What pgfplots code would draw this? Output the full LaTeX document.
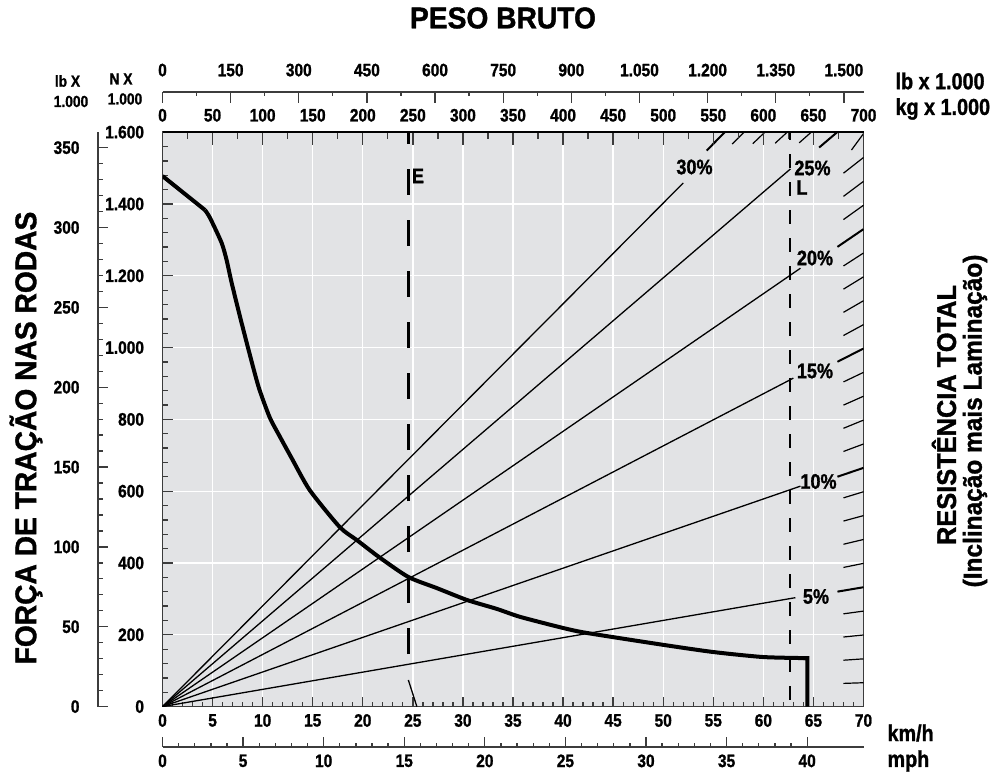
\documentclass[border=0pt]{standalone}
\usepackage{fontspec}
\setmainfont{Liberation Sans}[FakeStretch=0.86, BoldFeatures={FakeBold=1.2}]
\newfontfamily\titfam{Liberation Sans}[FakeStretch=0.94, BoldFeatures={FakeBold=1.2}]
\usepackage{pgfplots}
\pgfplotsset{compat=1.18}
\definecolor{bg}{RGB}{226,227,229}
\definecolor{axc}{RGB}{60,60,60}
\newcommand\tf{\bfseries\fontsize{18}{18}\selectfont}
\newcommand\rf{\bfseries\fontsize{21}{21}\selectfont}
\newcommand\smf{\bfseries\fontsize{16}{16}\selectfont}
\newcommand\uf{\bfseries\fontsize{23}{23}\selectfont}
\newcommand\titf{\titfam\bfseries\fontsize{30}{30}\selectfont}
\newcommand\rtf{\titfam\bfseries\fontsize{27}{27}\selectfont}
\newcommand\rtg{\titfam\bfseries\fontsize{26}{26}\selectfont}
\pgfplotsset{
  common/.style={scale only axis, tick align=inside,
    /pgf/number format/assume math mode=true, /pgf/number format/1000 sep={.},
    tick label style={font=\tf},
    axis line style={axc, line width=1.5pt}, tick style={axc, line width=1.3pt}},
}
\begin{document}
\begin{tikzpicture}[x=1pt,y=1pt]
\path[use as bounding box] (0pt,0pt) rectangle (1004pt,773pt);

% main axis: km/h vs kN
\begin{axis}[common, at={(162.5pt,66.4pt)}, anchor=south west, width=701pt, height=574.4pt,
  xmin=0, xmax=70, ymin=0, ymax=1600,
  axis background/.style={fill=bg},
  xtick={0,5,...,70}, ytick={0,200,...,1600}, minor x tick num=4, minor y tick num=4,
  xtick pos=bottom, ytick pos=left,
  major tick length=10pt, minor tick length=5pt,
  grid=major, major grid style={white, line width=1.3pt},
  xticklabel style={yshift=-4pt}, yticklabel style={xshift=-15pt},
  unbounded coords=jump]
% rays
\addplot[black, line width=1.3pt] coordinates {(0,0) (63.2,303.4)};
\addplot[black, line width=1.3pt] coordinates {(0,0) (63.7,614)};
\addplot[black, line width=1.3pt] coordinates {(0,0) (63.0,915)};
\addplot[black, line width=1.3pt] coordinates {(0,0) (63.7,1221)};
\addplot[black, line width=1.3pt] coordinates {(0,0) (62.7,1497.5)};
\addplot[black, line width=1.3pt] coordinates {(0,0) (52.0,1458.5)};
% hatch ticks (minor)
\addplot[black, line width=1.2pt] coordinates {
(68,64.6) (70,66.5) (69,nan)
(68,129.2) (70,133) (69,nan)
(68,193.8) (70,199.5) (69,nan)
(68,258.4) (70,266) (69,nan)
(68,387.6) (70,399) (69,nan)
(68,452.2) (70,465.5) (69,nan)
(68,516.8) (70,532) (69,nan)
(68,581.4) (70,598.5) (69,nan)
(68,710.6) (70,731.5) (69,nan)
(68,775.2) (70,798) (69,nan)
(68,839.8) (70,864.5) (69,nan)
(68,904.4) (70,931) (69,nan)
(68,1033.6) (70,1064) (69,nan)
(68,1098.2) (70,1130.5) (69,nan)
(68,1162.8) (70,1197) (69,nan)
(68,1227.4) (70,1263.5) (69,nan)
(68,1356.6) (70,1396.5) (69,nan)
(68,1421.2) (70,1463) (69,nan)
(68,1485.8) (70,1529.5) (69,nan)
(68.8,1550.4) (70,1596) (69,nan)
(63.58,1570.4) (64.78,1600) (69,nan)
(61.18,1569.3) (62.38,1600) (69,nan)
(58.95,1568.1) (60.15,1600) (69,nan)
(56.88,1567.0) (58.08,1600)
};
% hatch ticks (major)
\addplot[black, line width=2pt] coordinates {
(67.4,320.2) (70,332.5) (69,nan)
(67.4,640.3) (70,665) (69,nan)
(67.4,960.5) (70,997.5) (69,nan)
(67.4,1280.6) (70,1330) (69,nan)
(65.57,1557.3) (67.37,1600) (69,nan)
(54.34,1548.7) (56.14,1600)
};
% dashed lines E and L
\addplot[black, line width=2.5pt, dash pattern=on 26pt off 25pt] coordinates {(24.55,146.5) (24.55,1600)};
\addplot[black, line width=1.3pt] coordinates {(24.55,74) (25.4,0)};
\addplot[black, line width=2pt, dash pattern=on 14pt off 14pt, dash phase=21pt] coordinates {(62.7,0) (62.7,1600)};
% tractive force curve
\addplot[black, line width=4pt, line join=round] coordinates {(0,1478) (4.25,1383)};
\addplot[black, line width=4pt, line join=round, smooth, tension=0.4] coordinates {
(4.25,1383) (4.75,1361) (5.9,1292) (6.4,1244) (6.9,1181) (7.75,1085) (8.6,993) (9.6,890)
(10.7,806) (11.7,753) (12.9,692) (14.7,603) (17.7,500) (19.4,464) (21.6,417) (24.55,361)
(27.4,330) (30.4,297) (33.4,272) (35.7,250) (40.0,219) (42.4,205) (50.0,172) (55.0,152)
(60.0,138) (64.4,135)};
\addplot[black, line width=4pt, line join=miter] coordinates {(64.0,135.2) (64.4,135) (64.4,0)};
\end{axis}

% kg x 1000 (top edge of plot)
\begin{axis}[common, at={(162.5pt,66.4pt)}, anchor=south west, width=701pt, height=574.4pt,
  xmin=0, xmax=700, ymin=0, ymax=1, axis x line*=top, axis y line=none,
  xtick={0,50,...,700}, minor x tick num=1,
  major tick length=13pt, minor tick length=7pt,
  axis line style={black, line width=1.5pt},
  xticklabel style={yshift=7pt}]
\end{axis}

% lb x 1000 (weight), top line
\begin{axis}[common, at={(162.5pt,681pt)}, anchor=north west, width=701pt, height=12pt,
  xmin=0, xmax=1543.2, ymin=0, ymax=1, axis x line*=top, axis y line=none,
  xtick={0,150,...,1500}, minor x tick num=1,
  major tick length=11pt, minor tick length=4pt,
  xticklabel style={yshift=12pt}]
\end{axis}

% mph axis
\begin{axis}[common, at={(162.5pt,26pt)}, anchor=south west, width=701pt, height=12pt,
  xmin=0, xmax=43.496, ymin=0, ymax=1, axis x line*=bottom, axis y line=none,
  xtick={0,5,...,40}, minor x tick num=4,
  major tick length=10pt, minor tick length=4pt,
  xticklabel style={yshift=-4pt}]
\end{axis}

% lb x 1000 (force), left scale
\begin{axis}[common, at={(98pt,66.4pt)}, anchor=south west, width=12pt, height=574.4pt,
  xmin=0, xmax=1, ymin=0, ymax=359.7, axis y line*=left, axis x line=none,
  ytick={0,50,...,350}, minor y tick num=4,
  major tick length=10pt, minor tick length=5pt,
  yticklabel style={xshift=-15pt}]
\end{axis}

% texts
\node[font=\titf] at (503,755) {PESO BRUTO};
\node[font=\titf, rotate=90] at (26,335) {FORÇA DE TRAÇÃO NAS RODAS};
\node[font=\rtf, rotate=90] at (944,358) {RESISTÊNCIA TOTAL};
\node[font=\rtg, rotate=90] at (975,352) {(Inclinação mais Laminação)};
\node[font=\smf] at (67.5,692) {lb X};
\node[font=\smf] at (71,671.5) {1.000};
\node[font=\smf] at (121,694) {N X};
\node[font=\smf] at (125,674) {1.000};
\node[font=\uf, anchor=west] at (892,692) {lb x 1.000};
\node[font=\uf, anchor=west] at (892,664) {kg x 1.000};
\node[font=\uf, anchor=west] at (884,40) {km/h};
\node[font=\uf, anchor=west] at (884,12) {mph};
\node[font=\rf] at (694.5,606) {30\%};
\node[font=\rf] at (812.5,605) {25\%};
\node[font=\rf] at (802,585.5) {L};
\node[font=\rf] at (815,515) {20\%};
\node[font=\rf] at (815,402) {15\%};
\node[font=\rf] at (818.5,291.5) {10\%};
\node[font=\rf] at (816,176.5) {5\%};
\node[font=\rf] at (418,597) {E};
\end{tikzpicture}
\end{document}
